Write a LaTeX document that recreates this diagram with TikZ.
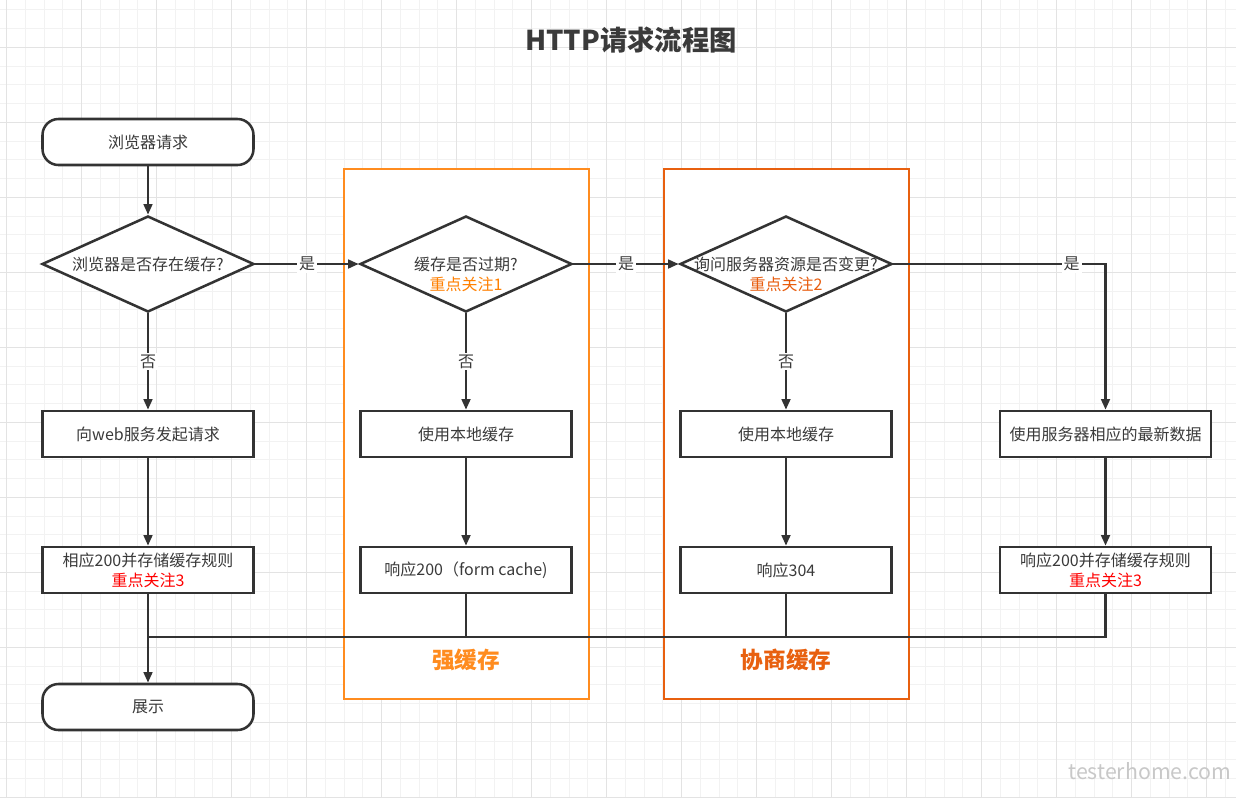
\documentclass[tikz,border=0pt]{standalone}
\usepackage{fontspec}
\setmainfont{Noto Sans CJK SC}
\usetikzlibrary{shapes.geometric,arrows.meta}
\definecolor{ln}{HTML}{333333}
\definecolor{txt}{HTML}{3A3A3A}
\definecolor{orA}{HTML}{FF8C1F}
\definecolor{orB}{HTML}{E8600F}
\definecolor{kfA}{HTML}{FF8000}
\definecolor{kfB}{HTML}{E85C0D}
\definecolor{kfC}{HTML}{FF0000}
\definecolor{gmin}{HTML}{F2F2F2}
\definecolor{gmaj}{HTML}{E3E3E3}
\definecolor{wmc}{HTML}{C8C8C8}
\begin{document}
\begin{tikzpicture}[x=0.75pt,y=-0.75pt,
  base/.style={draw=ln, line width=1.9pt, fill=white, text=txt,
    font=\fontsize{12}{15}\selectfont, align=center, inner sep=0pt},
  proc/.style={base, rectangle, minimum width=158.25pt, minimum height=34.5pt},
  term/.style={base, rectangle, rounded corners=12pt, minimum width=158.25pt, minimum height=34.5pt},
  dia/.style={base, diamond, minimum width=159pt, minimum height=72pt},
  dtext/.style={text=txt, font=\fontsize{12}{15}\selectfont, align=center, inner sep=0pt},
  grpA/.style={draw=orA, line width=1.6pt, fill=white, minimum width=183.75pt, minimum height=397.5pt, inner sep=0pt},
  grpB/.style={draw=orB, line width=1.6pt, fill=white, minimum width=183.75pt, minimum height=397.5pt, inner sep=0pt},
  conn/.style={draw=ln, line width=1.9pt, -{Triangle[length=8pt,width=6.5pt]}},
  plain/.style={draw=ln, line width=1.9pt},
  lab/.style={fill=white, text=txt, font=\fontsize{12}{15}\selectfont, inner sep=1.5pt},
  gridmin/.style={draw=gmin, line width=0.75pt},
  gridmaj/.style={draw=gmaj, line width=0.75pt}
]
\useasboundingbox (0,0) rectangle (1236,797);
\fill[white] (0,0) rectangle (1236,797);
% grid
\foreach \i in {0,...,65} {\draw[gridmin] ({6.7+18.75*\i},0) -- ({6.7+18.75*\i},797);}
\foreach \i in {0,...,42} {\draw[gridmin] (0,{9.8+18.75*\i}) -- (1236,{9.8+18.75*\i});}
\foreach \i in {0,...,16} {\draw[gridmaj] ({6.7+75*\i},0) -- ({6.7+75*\i},797);}
\foreach \i in {0,...,10} {\draw[gridmaj] (0,{47.3+75*\i}) -- (1236,{47.3+75*\i});}

% title
\node[text=txt, font=\fontsize{20.5}{24}\bfseries\selectfont] (title) at (631,40) {HTTP请求流程图};

% groups
\node[grpA] (gA) at (466.5,434) {};
\node[grpB] (gB) at (786.5,434) {};
\node[text=orA, font=\fontsize{17}{20}\bfseries\selectfont] (gAt) at (466,660) {强缓存};
\node[text=orB, font=\fontsize{17}{20}\bfseries\selectfont] (gBt) at (786,660) {协商缓存};

% column 1
\node[term] (start) at (148,142) {浏览器请求};
\node[dia] (d1) at (148,264) {};
\node[dtext] (d1t) at (148,264) {浏览器是否存在缓存?};
\node[proc] (req) at (148,434) {向web服务发起请求};
\node[proc] (rule1) at (148,570) {相应200并存储缓存规则\\\textcolor{kfC}{重点关注3}};
\node[term] (show) at (148,707) {展示};

% column 2
\node[dia] (d2) at (466,264) {};
\node[dtext] (d2t) at (466,274) {缓存是否过期?\\\textcolor{kfA}{重点关注1}};
\node[proc] (loc1) at (466,434) {使用本地缓存};
\node[proc] (r200) at (466,570) {响应200（form cache)};

% column 3
\node[dia] (d3) at (786,264) {};
\node[dtext] (d3t) at (786,274) {询问服务器资源是否变更?\\\textcolor{kfB}{重点关注2}};
\node[proc] (loc2) at (786,434) {使用本地缓存};
\node[proc] (r304) at (786,570) {响应304};

% column 4
\node[proc] (srv) at (1105.5,434) {使用服务器相应的最新数据};
\node[proc] (rule2) at (1105.5,570) {响应200并存储缓存规则\\\textcolor{kfC}{重点关注3}};

% connectors
\draw[conn] (start) -- (d1);
\draw[conn] (d1) -- node[lab]{否} (req);
\draw[conn] (req) -- (rule1);
\draw[conn] (rule1) -- (show);
\draw[conn] (d1) -- node[lab]{是} (d2);
\draw[conn] (d2) -- node[lab]{否} (loc1);
\draw[conn] (loc1) -- (r200);
\draw[conn] (d2) -- node[lab]{是} (d3);
\draw[conn] (d3) -- node[lab]{否} (loc2);
\draw[conn] (loc2) -- (r304);
\draw[conn] (d3.east) -| node[lab,pos=0.42]{是} (srv);
\draw[conn] (srv) -- (rule2);
\coordinate (jn) at (148,637);
\draw[plain] (rule2.south) |- (jn);
\draw[plain] (r200.south) -- (r200.south |- jn);
\draw[plain] (r304.south) -- (r304.south |- jn);

% watermark
\node[anchor=west, text=wmc, font=\fontsize{16}{18}\selectfont, inner sep=0pt] (wm) at (1068,771) {testerhome.com};
\end{tikzpicture}
\end{document}
